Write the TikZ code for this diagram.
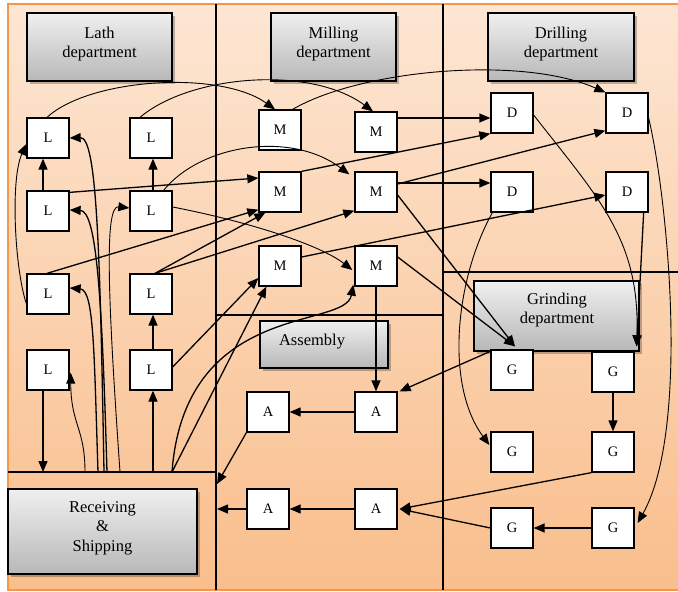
\documentclass[tikz,border=0pt]{standalone}
\usepackage{fontspec}
\setmainfont{Liberation Serif}
\usetikzlibrary{arrows.meta,calc,shadows}
\definecolor{bgtop}{HTML}{FDE6D3}
\definecolor{bgbot}{HTML}{F9BE8C}
\definecolor{framec}{HTML}{F79646}
\begin{document}
\begin{tikzpicture}[x=1pt,y=-1pt,
  box/.style={draw=black, line width=1.3pt, fill=white, minimum width=42pt, minimum height=40pt, inner sep=0pt, font=\fontsize{14.5}{16}\selectfont},
  dept/.style={draw=black, line width=1.3pt, top color=black!6, bottom color=black!28, inner sep=0pt,
    drop shadow={shadow xshift=2.5pt, shadow yshift=-2.5pt, opacity=0.25, fill=black}},
  depttxt/.style={align=center, font=\fontsize{16.5}{19.5}\selectfont, inner sep=0pt},
  wall/.style={line width=1.3pt, black},
  arr/.style={line width=1.3pt, -{Triangle[length=11pt,width=9pt]}},
  tarr/.style={line width=0.9pt, -{Triangle[length=11pt,width=9pt]}},
]
\useasboundingbox (0,0) rectangle (678,592);
% background
\fill[white] (0,0) rectangle (678,592);
\shade[top color=bgtop, bottom color=bgbot] (8,4) rectangle (678,590);
\draw[framec, line width=1.5pt] (678,4) -- (8,4) -- (8,590) -- (678,590);
% region walls
\draw[wall] (216,4) -- (216,590);
\draw[wall] (443,4) -- (443,590);
\draw[wall] (8,472) -- (216,472);
\draw[wall] (216,315) -- (443,315);
\draw[wall] (443,272) -- (678,272);
% department boxes
\node[dept, minimum width=145pt, minimum height=68pt] (lathbox) at (99.5,47) {};
\node[depttxt] (lathtxt) at (99.5,44) {Lath\\department};
\node[dept, minimum width=125pt, minimum height=68pt] (millbox) at (333.5,47) {};
\node[depttxt] (milltxt) at (333.5,44) {Milling\\department};
\node[dept, minimum width=146pt, minimum height=68pt] (drillbox) at (561,47) {};
\node[depttxt] (drilltxt) at (561,44) {Drilling\\department};
\node[dept, minimum width=165pt, minimum height=70pt] (grindbox) at (556.5,316) {};
\node[depttxt] (grindtxt) at (557,310) {Grinding\\department};
\node[dept, minimum width=128pt, minimum height=47pt] (asmbox) at (324,344.5) {};
\node[depttxt] (asmtxt) at (312,342) {Assembly};
\node[dept, minimum width=189pt, minimum height=85pt] (recvbox) at (102.5,531.5) {};
\node[depttxt] (recvtxt) at (102.5,528) {Receiving\\\&\\Shipping};
% machine nodes
\node[box] (L11) at (48,138) {L};
\node[box] (L12) at (151,138) {L};
\node[box] (L21) at (48,211) {L};
\node[box] (L22) at (151,211) {L};
\node[box] (L31) at (48,294) {L};
\node[box] (L32) at (151,294) {L};
\node[box] (L41) at (48,370) {L};
\node[box] (L42) at (151,370) {L};
\node[box] (M11) at (280,130) {M};
\node[box] (M12) at (376,132) {M};
\node[box] (M21) at (280,192) {M};
\node[box] (M22) at (376,192) {M};
\node[box] (M31) at (280,266) {M};
\node[box] (M32) at (376,266) {M};
\node[box] (D11) at (512,113) {D};
\node[box] (D12) at (627,113) {D};
\node[box] (D21) at (512,192) {D};
\node[box] (D22) at (627,192) {D};
\node[box] (G11) at (512,370) {G};
\node[box] (G12) at (613,372) {G};
\node[box] (G21) at (512,452) {G};
\node[box] (G22) at (613,452) {G};
\node[box] (G31) at (512,528) {G};
\node[box] (G32) at (613,528) {G};
\node[box] (A11) at (268,412) {A};
\node[box] (A12) at (376,412) {A};
\node[box] (A21) at (268,509) {A};
\node[box] (A22) at (376,509) {A};
% free ends on the receiving region
\coordinate (rL41) at (85,472);
\coordinate (rL31) at (98,472);
\coordinate (rL11) at (104,472);
\coordinate (rL21) at (107,472);
\coordinate (rL22) at (120,472);
\coordinate (rL42) at (153,472);
\coordinate (rM) at (172,472);
\coordinate (rIn) at (43,472);
\coordinate (rA1) at (217,484);
\coordinate (rA2) at (217,509);
% lath flows
\draw[tarr] ($(L11.north)+(-1,0)$) .. controls (90,78) and (220,70) .. ($(M11.north)+(-5,0)$);
\draw[tarr] ($(L12.north)+(-11,0)$) .. controls (190,75) and (310,65) .. ($(M12.north)+(-3,0)$);
\draw[arr] ($(L21.north east)+(0,2)$) -- ($(M21.west)+(0,-14)$);
\draw[tarr] ($(L22.north east)+(-9,0)$) .. controls (200,145) and (290,130) .. ($(M22.north west)+(-5,3)$);
\draw[tarr] ($(L22.east)+(0,-4)$) .. controls (250,222) and (320,245) .. ($(M32.west)+(-2,4)$);
\draw[arr] ($(L31.north)+(-1,0)$) -- ($(M21.south west)+(0,-3)$);
\draw[arr] ($(L32.north)+(4,0)$) -- ($(M21.south west)+(7,0)$);
\draw[arr] ($(L32.north)+(4,0)$) -- ($(M22.south west)+(0,-2)$);
\draw[arr] ($(L42.east)+(0,-3)$) -- ($(M31.west)+(0,12)$);
\draw[arr] ($(L21.north)+(-5,0)$) -- ($(L11.south)+(-5,0)$);
\draw[arr] ($(L22.north)+(2,0)$) -- ($(L12.south)+(2,0)$);
\draw[arr] ($(L42.north)+(2,0)$) -- ($(L32.south)+(2,0)$);
\draw[tarr] ($(L31.south west)+(0,-11)$) .. controls (15,270) and (10,180) .. ($(L11.west)+(0,6)$);
% receiving flows
\draw[arr] (rM) -- ($(M31.south west)+(8,0)$);
\draw[arr] (rM) .. controls (185,300) and (345,330) .. ($(M32.south west)+(-1,-2)$);
\draw[arr] (rL42) -- (rL42 |- L42.south);
\draw[arr] ($(L41.south)+(-5,0)$) -- (rIn);
\draw[tarr] (rL41) .. controls (85,428) and (71,425) .. ($(L41.south east)+(1,-18)$);
\draw[arr] (rL31) .. controls (94,350) and (94,290) .. ($(L31.east)+(0,-6)$);
\draw[arr] (rL11) .. controls (100,250) and (97,137) .. (L11.east);
\draw[arr] (rL21) .. controls (102,300) and (97,211) .. ($(L21.east)+(0,-1)$);
\draw[tarr] (rL22) .. controls (108,300) and (104,205) .. ($(L22.west)+(0,-3)$);
% milling flows
\draw[tarr] ($(M11.north east)+(-9,0)$) .. controls (360,70) and (520,55) .. (D12.north west);
\draw[arr] ($(M12.east)+(0,-14)$) -- ($(D11.west)+(0,5)$);
\draw[arr] (M21.north east) -- (D11.south west);
\draw[arr] ($(M22.east)+(0,-8)$) -- ($(D12.south west)+(0,-3)$);
\draw[arr] ($(M22.east)+(0,-9)$) -- ($(D21.west)+(0,-9)$);
\draw[arr] ($(M31.east)+(0,-9)$) -- ($(D22.west)+(0,3)$);
\draw[arr] ($(M22.east)+(0,3)$) -- ($(G11.north)+(3,-3)$);
\draw[arr] ($(M32.east)+(0,-9)$) -- ($(G11.north)+(3,-3)$);
\draw[arr] (M32.south) -- (A12.north);
% drilling flows
\draw[tarr] ($(D21.south west)+(2,0)$) .. controls (455,280) and (445,385) .. ($(G21.west)+(-1,-7)$);
\draw[tarr] ($(D12.east)+(0,5)$) .. controls (668,200) and (690,430) .. ($(G32.east)+(3,-5)$);
\draw[tarr] ($(D11.east)+(0,2)$) .. controls (600,200) and (640,240) .. ($(G12.north east)+(2,-5)$);
\draw[arr] ($(D22.south east)+(-5,0)$) -- ($(G12.north east)+(2,-5)$);
% grinding and assembly flows
\draw[arr] ($(G11.north west)+(0,2)$) -- ($(A12.north east)+(2,0)$);
\draw[arr] (G12.south) -- (G22.north);
\draw[arr] (G32.west) -- (G31.east);
\draw[arr] (G22.south west) -- ($(A22.east)+(2,0)$);
\draw[arr] (G31.west) -- ($(A22.east)+(2,0)$);
\draw[arr] (A12.west) -- (A11.east);
\draw[arr] (A11.south west) -- (rA1);
\draw[arr] (A22.west) -- (A21.east);
\draw[arr] (A21.west) -- (rA2);
\end{tikzpicture}
\end{document}
